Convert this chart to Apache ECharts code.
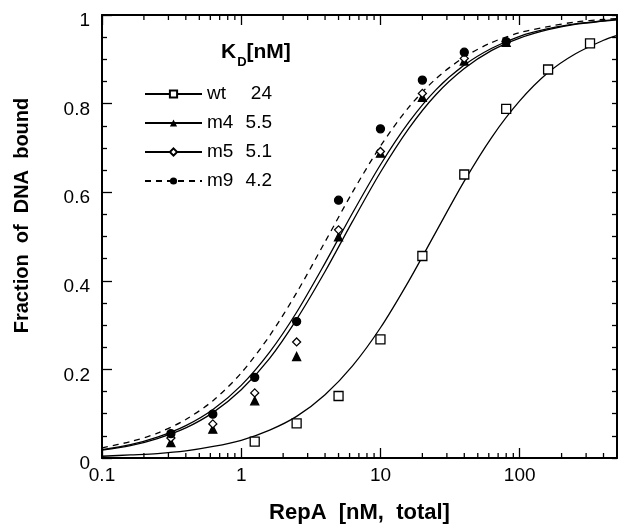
<!DOCTYPE html>
<html lang="en">
<head>
    <meta charset="UTF-8">
    <title>RepA binding</title>
    <style>
        html, body { margin: 0; padding: 0; background: #fff; }
    </style>
</head>
<body>
<div id="chart" style="width: 618px; height: 530px"></div>
<script src="https://cdn.jsdelivr.net/npm/echarts@6/dist/echarts.min.js"></script>
<script>
    // measured points (RepA total, nM)
    var conc = [0.3125, 0.625, 1.25, 2.5, 5, 10, 20, 40, 80, 160, 320];
    var wtPts = [null, null, 0.037, 0.078, 0.140, 0.268, 0.456, 0.640, 0.788, 0.877, 0.936];
    var m4Pts = [0.035, 0.065, 0.129, 0.229, 0.499, 0.688, 0.814, 0.896, 0.938, null, null];
    var m5Pts = [0.045, 0.077, 0.147, 0.262, 0.515, 0.692, 0.823, 0.902, 0.940, null, null];
    var m9Pts = [0.055, 0.099, 0.182, 0.308, 0.582, 0.743, 0.853, 0.916, 0.940, null, null];

    // fitted curves
    var curveX = [0.1, 0.16, 0.25, 0.4, 0.63, 1, 1.6, 2.5, 4, 6.3, 10, 16, 25, 40, 63, 100, 160, 250, 400, 500];
    var wtCurve = [0.004, 0.007, 0.010, 0.016, 0.026, 0.040, 0.063, 0.094, 0.143, 0.208, 0.294, 0.400, 0.510, 0.625, 0.724, 0.806, 0.870, 0.912, 0.943, 0.954];
    var m4Curve = [0.018, 0.028, 0.044, 0.068, 0.103, 0.154, 0.225, 0.313, 0.421, 0.534, 0.645, 0.744, 0.820, 0.879, 0.920, 0.948, 0.967, 0.979, 0.986, 0.989];
    var m5Curve = [0.019, 0.030, 0.047, 0.073, 0.110, 0.164, 0.239, 0.329, 0.440, 0.553, 0.662, 0.758, 0.831, 0.887, 0.925, 0.952, 0.969, 0.980, 0.987, 0.990];
    var m9Curve = [0.023, 0.037, 0.056, 0.087, 0.130, 0.192, 0.276, 0.373, 0.488, 0.600, 0.704, 0.792, 0.856, 0.905, 0.938, 0.960, 0.974, 0.984, 0.990, 0.992];

    var names = ['wt', 'm4', 'm5', 'm9'];
    var kd = ['24', '5.5', '5.1', '4.2'];
    var xTicks = [0.1, 1, 10, 100];
    var xMinorTicks = [0.2, 0.3, 0.4, 0.5, 0.6, 0.7, 0.8, 0.9, 2, 3, 4, 5, 6, 7, 8, 9,
        20, 30, 40, 50, 60, 70, 80, 90, 200, 300, 400];

    function pairs(xs, ys) {
        var out = [];
        for (var i = 0; i < xs.length; i++) {
            if (ys[i] != null) out.push([xs[i], ys[i]]);
        }
        return out;
    }

    var font = '"Liberation Sans", Arial, Helvetica, sans-serif';
    var chart = echarts.init(document.getElementById('chart'));

    var tickStyle = {color: '#000', width: 1.3};
    function xAx(pos, withLabels) {
        return {
            type: 'log', logBase: 10, min: 0.1, max: 500, position: pos,
            axisLine: {onZero: false, lineStyle: {color: '#000', width: 2}},
            axisTick: {inside: true, length: 10, lineStyle: tickStyle},
            minorTick: {show: false},
            splitLine: {show: false},
            axisLabel: {
                show: withLabels, color: '#000', fontFamily: font, fontSize: 19, margin: 8,
                showMaxLabel: false,
                formatter: function (v) { return xTicks.indexOf(v) >= 0 ? String(v) : ''; }
            },
            name: withLabels ? 'RepA  [nM,  total]' : '',
            nameLocation: 'middle', nameGap: 44,
            nameTextStyle: {color: '#000', fontFamily: font, fontSize: 22, fontWeight: 'bold'}
        };
    }
    function yAx(pos, withLabels) {
        return {
            type: 'value', min: 0, max: 1, interval: 0.2, position: pos,
            axisLine: {onZero: false, lineStyle: {color: '#000', width: 2}},
            axisTick: {inside: true, length: withLabels ? 10 : 5, lineStyle: tickStyle},
            minorTick: {show: true, splitNumber: 4, length: 5, lineStyle: tickStyle},
            splitLine: {show: false},
            axisLabel: {
                show: withLabels, color: '#000', fontFamily: font, fontSize: 19, margin: 12,
                verticalAlign: 'top', lineHeight: 12
            },
            name: withLabels ? 'Fraction  of  DNA  bound' : '',
            nameLocation: 'middle', nameGap: 70,
            nameTextStyle: {color: '#000', fontFamily: font, fontSize: 20, fontWeight: 'bold', padding: [0, 0, 0, 42]}
        };
    }

    var curves = [wtCurve, m4Curve, m5Curve, m9Curve];
    var points = [wtPts, m4Pts, m5Pts, m9Pts];
    var lineSymbols = ['emptyRect', 'triangle', 'emptyDiamond', 'circle'];
    var ptStyles = [
        {symbol: 'rect', size: 9, fill: '#fff'},
        {symbol: 'triangle', size: 8, fill: '#000'},
        {symbol: 'diamond', size: 8, fill: '#fff'},
        {symbol: 'circle', size: 8, fill: '#000'}
    ];

    var series = [];
    for (var k = 0; k < names.length; k++) {
        series.push({
            name: names[k], type: 'line', smooth: 0.3,
            showSymbol: false, symbol: lineSymbols[k], silent: true,
            data: pairs(curveX, curves[k]),
            itemStyle: {color: '#000'},
            lineStyle: {color: '#000', width: 1.3, type: k === 3 ? [6, 5] : 'solid'},
            z: 2
        });
        series.push({
            name: names[k] + ' data', type: 'scatter', silent: true,
            symbol: ptStyles[k].symbol, symbolSize: ptStyles[k].size,
            data: pairs(conc, points[k]),
            itemStyle: {color: ptStyles[k].fill, borderColor: '#000', borderWidth: 1.3, opacity: 1},
            z: 3
        });
    }

    // minor log ticks on bottom and top frame, drawn through the log scale
    var minorData = [];
    for (var t = 0; t < xMinorTicks.length; t++) {
        minorData.push([xMinorTicks[t], 0]);
    }
    series.push({
        name: 'minor-ticks', type: 'custom', silent: true, clip: false, z: 5,
        data: minorData,
        encode: {x: 0, y: 1},
        renderItem: function (params, api) {
            var xb = api.coord([api.value(0), 0]);
            var xt = api.coord([api.value(0), 1]);
            var st = {stroke: '#000', lineWidth: 1.3};
            return {
                type: 'group',
                children: [
                    {type: 'line', shape: {x1: xb[0], y1: xb[1], x2: xb[0], y2: xb[1] - 5}, style: st},
                    {type: 'line', shape: {x1: xt[0], y1: xt[1], x2: xt[0], y2: xt[1] + 5}, style: st}
                ]
            };
        }
    });

    var option = {
        animation: false,
        backgroundColor: '#fff',
        grid: {left: 102, right: 1, top: 15, bottom: 72},
        title: {
            left: 216, top: 37,
            text: '{k|K}{d|D}{k|[nM]}',
            textStyle: {
                rich: {
                    k: {fontFamily: font, fontSize: 21, fontWeight: 'bold', color: '#000', lineHeight: 26, verticalAlign: 'top'},
                    d: {fontFamily: font, fontSize: 13, fontWeight: 'bold', color: '#000', lineHeight: 13, padding: [14, 0, 0, 1], verticalAlign: 'top'}
                }
            }
        },
        legend: {
            data: names, orient: 'vertical', left: 139, top: 79,
            itemWidth: 57, itemHeight: 9, itemGap: 9,
            selectedMode: false,
            formatter: function (n) { return '{n|' + n + '}{v|' + kd[names.indexOf(n)] + '}'; },
            textStyle: {
                color: '#000', fontFamily: font, fontSize: 19, lineHeight: 20,
                rich: {
                    n: {fontFamily: font, fontSize: 19, color: '#000', width: 37, lineHeight: 20},
                    v: {fontFamily: font, fontSize: 19, color: '#000', width: 28, align: 'right', lineHeight: 20}
                }
            }
        },
        xAxis: [xAx('bottom', true), xAx('top', false)],
        yAxis: [yAx('left', true), yAx('right', false)],
        series: series
    };
    chart.setOption(option);
</script>
</body>
</html>
